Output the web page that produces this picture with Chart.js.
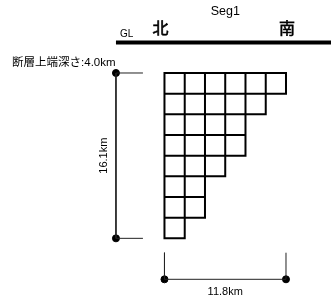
<!DOCTYPE html>
<html>
<head>
<meta charset="utf-8">
<script src="https://cdn.jsdelivr.net/npm/chart.js@4"></script>
<style>
    body { margin: 0; background: #fff; }
    #wrap { width: 331px; height: 298px; }
</style>
</head>
<body>
<div id="wrap"><canvas id="FaultChart"></canvas></div>
<script>
// fault model values (km)
const segName = 'Seg1';
const directionLabels = ['北', '南'];
const topDepthKm = 4.0;
const faultWidthKm = 16.1;
const faultLengthKm = 11.8;
const cellsPerRow = [6, 5, 4, 4, 3, 2, 2, 1];

const colCount = Math.max(...cellsPerRow);
const cellW = faultLengthKm / colCount;
const cellH = faultWidthKm / cellsPerRow.length;
const bottomDepthKm = topDepthKm + faultWidthKm;

// grid lines as segments, broken with nulls
const gridPts = [];
for (let k = 0; k <= cellsPerRow.length; k++) {
    const above = k > 0 ? cellsPerRow[k - 1] : 0;
    const below = k < cellsPerRow.length ? cellsPerRow[k] : 0;
    const y = topDepthKm + k * cellH;
    gridPts.push({ x: 0, y: y }, { x: Math.max(above, below) * cellW, y: y }, { x: null, y: null });
}
for (let j = 0; j <= colCount; j++) {
    const rows = cellsPerRow.filter(n => n >= Math.max(j, 1)).length;
    gridPts.push({ x: j * cellW, y: topDepthKm }, { x: j * cellW, y: topDepthKm + rows * cellH }, { x: null, y: null });
}

// dimension lines
const dimX = -4.71, tickX = -2.09, dimY = 24.09, tickY = 21.5;
const dimPts = [
    { x: dimX, y: topDepthKm }, { x: tickX, y: topDepthKm }, { x: null, y: null },
    { x: dimX, y: topDepthKm }, { x: dimX, y: bottomDepthKm }, { x: tickX, y: bottomDepthKm }, { x: null, y: null },
    { x: 0, y: tickY }, { x: 0, y: dimY }, { x: faultLengthKm, y: dimY }, { x: faultLengthKm, y: tickY }
];
const dotPts = [
    { x: dimX, y: topDepthKm }, { x: dimX, y: bottomDepthKm },
    { x: 0, y: dimY }, { x: faultLengthKm, y: dimY }
];

const labelPlugin = {
    id: 'labels',
    afterDraw(chart) {
        const c = chart.ctx, xs = chart.scales.x, ys = chart.scales.y;
        const px = v => xs.getPixelForValue(v), py = v => ys.getPixelForValue(v);
        c.save();
        c.fillStyle = '#000';
        c.strokeStyle = '#000';
        c.textAlign = 'center';
        c.textBaseline = 'alphabetic';
        c.font = '12.5px "Liberation Sans", Arial, sans-serif';
        c.fillText(segName, px(faultLengthKm / 2), py(-1.6));
        c.textBaseline = 'middle';
        c.font = '16px "Noto Sans CJK JP", sans-serif';
        c.lineWidth = 0.6;
        directionLabels.forEach((t, i) => {
            const x = px(i === 0 ? -0.39 : 11.89), y = py(-0.35);
            c.fillText(t, x, y);
            c.strokeText(t, x, y);
        });
        c.textAlign = 'left';
        c.textBaseline = 'alphabetic';
        c.font = '10px "Liberation Sans", Arial, sans-serif';
        c.fillText('GL', px(-4.32), py(0.54));
        c.textBaseline = 'middle';
        c.font = '11.5px "Liberation Sans", "Noto Sans CJK JP", sans-serif';
        c.fillText('断層上端深さ:' + topDepthKm.toFixed(1) + 'km', px(-14.8), py(2.98));
        c.textAlign = 'center';
        c.font = '11px "Liberation Sans", Arial, sans-serif';
        c.fillText(faultLengthKm.toFixed(1) + 'km', px(faultLengthKm / 2), py(25.3));
        c.translate(px(-5.87), py(topDepthKm + faultWidthKm / 2));
        c.rotate(-Math.PI / 2);
        c.fillText(faultWidthKm.toFixed(1) + 'km', 0, 0);
        c.restore();
    }
};

const ctx = document.getElementById('FaultChart');
new Chart(ctx, {
    type: 'scatter',
    data: {
        datasets: [{
            label: 'GL',
            data: [{ x: dimX, y: 1.03 }, { x: 16.17, y: 1.03 }],
            showLine: true,
            borderColor: '#000',
            borderWidth: 4,
            pointRadius: 0
        }, {
            label: 'grid',
            data: gridPts,
            showLine: true,
            spanGaps: false,
            borderColor: '#000',
            borderWidth: 2,
            borderCapStyle: 'square',
            pointRadius: 0
        }, {
            label: 'dimension',
            data: dimPts,
            showLine: true,
            spanGaps: false,
            borderColor: '#222',
            borderWidth: 1,
            pointRadius: 0
        }, {
            label: 'dots',
            data: dotPts,
            showLine: false,
            backgroundColor: '#000',
            borderColor: '#000',
            pointRadius: 3.5
        }]
    },
    options: {
        responsive: true,
        maintainAspectRatio: false,
        animation: false,
        layout: { padding: 0, autoPadding: false },
        plugins: {
            legend: { display: false },
            tooltip: { enabled: false }
        },
        scales: {
            x: { type: 'linear', display: false, min: -15.97, max: 16.17 },
            y: { type: 'linear', display: false, reverse: true, min: -3.108, max: 25.91 }
        }
    },
    plugins: [labelPlugin]
});
</script>
</body>
</html>
